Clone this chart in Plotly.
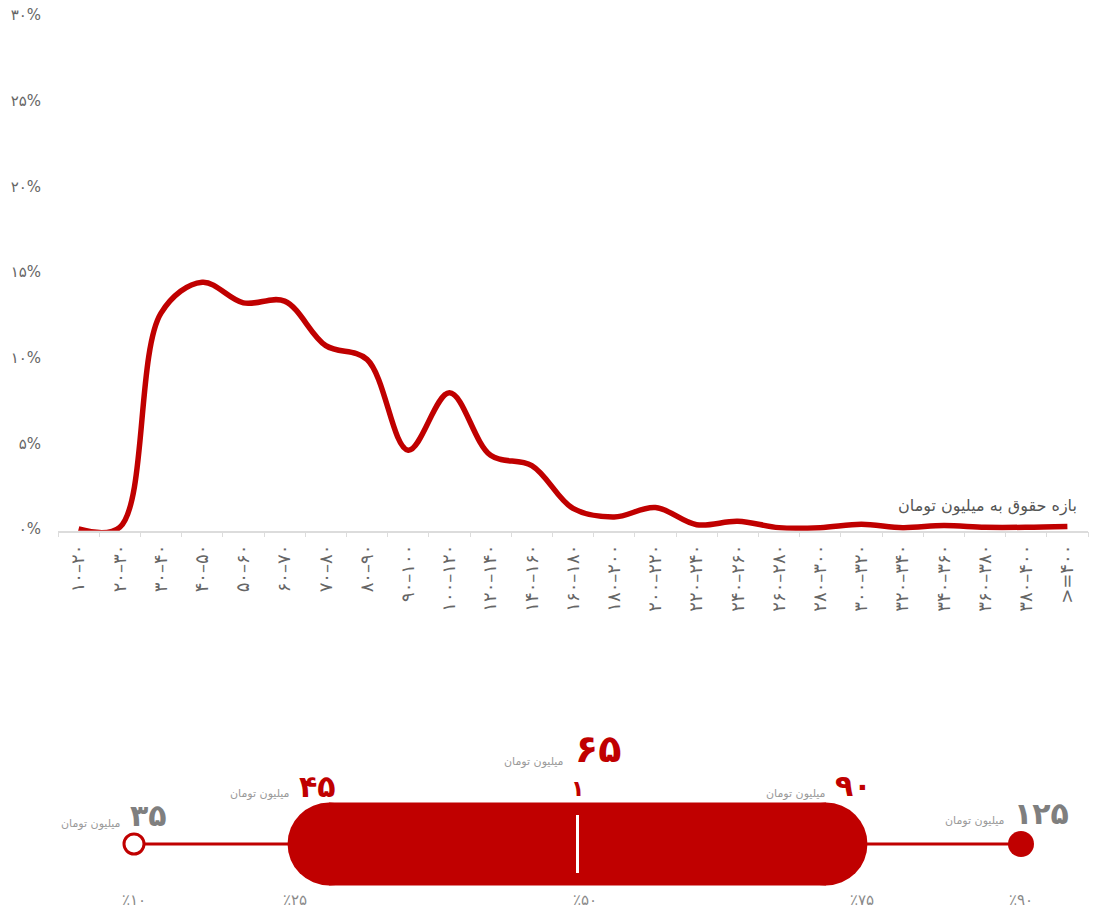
import plotly.graph_objects as go

# ---------------- data ----------------
CATEGORIES = ["10–20", "20–30", "30–40", "40–50", "50–60", "60–70", "70–80", "80–90",
              "90–100", "100–120", "120–140", "140–160", "160–180", "180–200", "200–220",
              "220–240", "240–260", "260–280", "280–300", "300–320", "320–340", "340–360",
              "360–380", "380–400", ">=400"]
SHARE = [0.0, 0.1, 12.6, 14.4, 13.2, 13.3, 10.7, 9.9, 4.6, 7.95, 4.3, 3.7, 1.2, 0.7,
         1.25, 0.25, 0.45, 0.08, 0.08, 0.27, 0.08, 0.2, 0.1, 0.1, 0.15]
Y_TICKS = [0, 5, 10, 15, 20, 25, 30]

PERCENTILES = [10, 25, 50, 75, 90]
SALARY = [35, 45, 65, 90, 125]          # million toman
MEDIAN_EXTRA = "1"                      # small label above the median mark
UNIT = "میلیون تومان"
X_TITLE = "بازه حقوق به میلیون تومان"

# ---------------- styles ----------------
RED = "#c00000"
GREY_NUM = "#7f7f7f"
FONT = "DejaVu Sans, Noto Sans, sans-serif"
NUM_COLORS = [GREY_NUM, RED, RED, RED, GREY_NUM]
NUM_SIZES = [30, 30, 38, 30, 30]
NUM_SHIFT_X = [-6, -3, -5, -22, -9]       # left edge of number relative to anchor (px)
NUM_SHIFT_Y = [29, 58, 95, 59, 31]        # vertical centre of number above bar centre (px)
UNIT_SHIFT_Y = [21, 51, 83, 51, 24]
UNIT_GAP = [5, 5, 7, 5, 5]
PCT_SHIFT_X = [0, -5, 7, 7, 0]
BAR_HALF = 41.5   # px
BAR_PAD = 1.15    # percentile units


def fa(s):
    return str(s).translate(str.maketrans("0123456789", "۰۱۲۳۴۵۶۷۸۹"))


W, H = 1096, 910
PLOT_L, PLOT_R = 58, 1088
TOP_Y30, TOP_Y0 = 15, 529
BOT_TOP, BOT_CENTRE = 730, 844
ML, MR, MT, MB = PLOT_L, W - PLOT_R, TOP_Y30, 0
plot_w = PLOT_R - PLOT_L
plot_h = H - MT - MB

# top chart
y_lo, y_hi = -0.1, 30
unit_px = (TOP_Y0 - TOP_Y30) / 30.0
top_h = (y_hi - y_lo) * unit_px
top_domain = [1 - top_h / plot_h, 1]

# bottom chart (1 y-unit == 1 px, 0 at bar centre)
bot_domain = [0, (H - BOT_TOP) / plot_h]
y2_range = [-(H - BOT_CENTRE), BOT_CENTRE - BOT_TOP]

# percentile x-axis: p10 -> 134 px, p90 -> 1021 px
k = (1021 - 134) / (PERCENTILES[-1] - PERCENTILES[0])
x2_lo = PERCENTILES[0] - (134 - PLOT_L) / k
x2_hi = x2_lo + plot_w / k

cat_labels = [fa(c) for c in CATEGORIES]

fig = go.Figure()
fig.add_trace(go.Scatter(
    x=cat_labels, y=SHARE, mode="lines",
    line=dict(color=RED, width=5.5, shape="spline", smoothing=1),
    hoverinfo="skip", showlegend=False, xaxis="x", yaxis="y"))

fig.add_trace(go.Scatter(
    x=[PERCENTILES[0]], y=[0], mode="markers",
    marker=dict(symbol="circle", size=20, color="white", line=dict(color=RED, width=3)),
    showlegend=False, hoverinfo="skip", xaxis="x2", yaxis="y2"))
fig.add_trace(go.Scatter(
    x=[PERCENTILES[-1]], y=[0], mode="markers",
    marker=dict(symbol="circle", size=26, color=RED, line=dict(width=0)),
    showlegend=False, hoverinfo="skip", xaxis="x2", yaxis="y2"))

shapes = []
shapes.append(dict(type="line", xref="x2", yref="y2", x0=PERCENTILES[0], x1=PERCENTILES[-1],
                   y0=0, y1=0, line=dict(color=RED, width=3), layer="below"))
r_u = BAR_HALF / k
left = PERCENTILES[1] - BAR_PAD
right = PERCENTILES[3] + BAR_PAD
shapes.append(dict(type="rect", xref="x2", yref="y2", x0=left + r_u, x1=right - r_u,
                   y0=-BAR_HALF, y1=BAR_HALF, fillcolor=RED, line=dict(width=0)))
for cx in (left + r_u, right - r_u):
    shapes.append(dict(type="circle", xref="x2", yref="y2", x0=cx - r_u, x1=cx + r_u,
                       y0=-BAR_HALF, y1=BAR_HALF, fillcolor=RED, line=dict(width=0)))
shapes.append(dict(type="line", xref="x2", yref="y2", x0=PERCENTILES[2], x1=PERCENTILES[2],
                   y0=-29, y1=29, line=dict(color="white", width=3)))

ann = []
ann.append(dict(xref="x", yref="y", x=len(CATEGORIES) - 1, y=0, text=X_TITLE,
                showarrow=False, xanchor="right", yanchor="bottom", xshift=12, yshift=11,
                font=dict(family=FONT, size=16, color="#555555")))
for i, (p, v) in enumerate(zip(PERCENTILES, SALARY)):
    ann.append(dict(xref="x2", yref="y2", x=p, y=NUM_SHIFT_Y[i], text="<b>" + fa(v) + "</b>",
                    showarrow=False, xanchor="left", yanchor="middle", xshift=NUM_SHIFT_X[i],
                    font=dict(family=FONT, size=NUM_SIZES[i], color=NUM_COLORS[i])))
    ann.append(dict(xref="x2", yref="y2", x=p, y=UNIT_SHIFT_Y[i], text=UNIT,
                    showarrow=False, xanchor="right", yanchor="middle",
                    xshift=NUM_SHIFT_X[i] - UNIT_GAP[i],
                    font=dict(family=FONT, size=11, color="#9a9a9a")))
    ann.append(dict(xref="x2", yref="y2", x=p, y=-56, text="٪" + fa(p),
                    showarrow=False, xanchor="center", yanchor="middle", xshift=PCT_SHIFT_X[i],
                    font=dict(family=FONT, size=15, color="#8a8a8a")))
ann.append(dict(xref="x2", yref="y2", x=PERCENTILES[2], y=56, text="<b>" + fa(MEDIAN_EXTRA) + "</b>",
                showarrow=False, xanchor="center", yanchor="middle",
                font=dict(family=FONT, size=22, color=RED)))

fig.update_layout(
    width=W, height=H, margin=dict(l=ML, r=MR, t=MT, b=MB, autoexpand=False),
    paper_bgcolor="white", plot_bgcolor="white",
    font=dict(family=FONT, color="#666666"),
    xaxis=dict(domain=[0, 1], anchor="y", type="category", automargin=False,
               range=[-0.5, len(CATEGORIES) - 0.5],
               showline=True, linecolor="#dcdcdc", linewidth=1.5, showgrid=False, zeroline=False,
               ticks="outside", ticklen=5, tickcolor="#dcdcdc", tickson="boundaries",
               tickangle=-90, ticklabelstandoff=5,
               tickfont=dict(family=FONT, size=18, color="#666666"),
               fixedrange=True),
    yaxis=dict(domain=top_domain, anchor="x", range=[y_lo, y_hi], showgrid=False,
               automargin=False, zeroline=False, showline=False, tickvals=Y_TICKS,
               ticktext=[fa(v) + "%" for v in Y_TICKS], ticklabelstandoff=16,
               ticklabeloverflow="allow",
               tickfont=dict(family=FONT, size=15, color="#666666")),
    xaxis2=dict(domain=[0, 1], anchor="y2", range=[x2_lo, x2_hi], visible=False, automargin=False),
    yaxis2=dict(domain=bot_domain, anchor="x2", range=y2_range, visible=False, automargin=False),
    shapes=shapes, annotations=ann,
)

fig.write_html(
    "out.html",
    config={"displayModeBar": False},
    post_script="document.body.style.margin='0';document.body.style.overflow='hidden';",
)
